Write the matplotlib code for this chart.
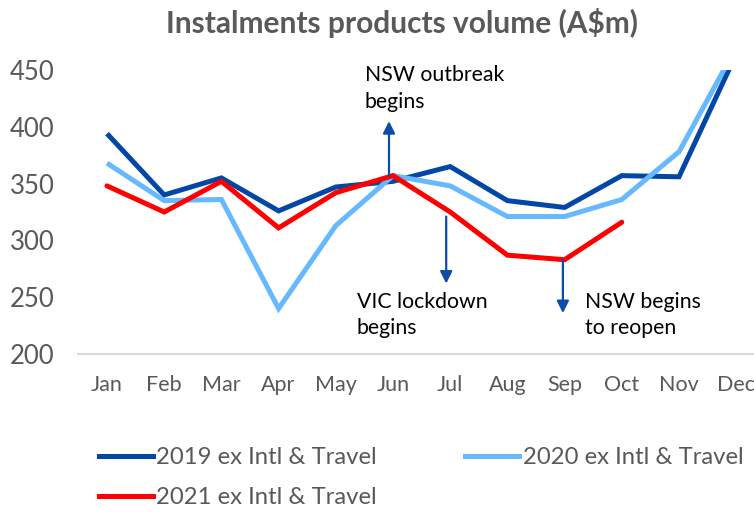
import matplotlib
matplotlib.use("Agg")
import matplotlib.pyplot as plt
from matplotlib.lines import Line2D

months = ["Jan", "Feb", "Mar", "Apr", "May", "Jun", "Jul", "Aug", "Sep", "Oct", "Nov", "Dec"]
v2019 = [394, 340, 355, 326, 347, 352, 365, 335, 329, 357, 356, 464]
v2020 = [368, 335, 336, 240, 313, 357, 348, 321, 321, 336, 378, 470]
v2021 = [348, 325, 352, 311, 342, 357, 325, 287, 283, 316]
labels = ["2019 ex Intl & Travel", "2020 ex Intl & Travel", "2021 ex Intl & Travel"]
yticks = [200, 250, 300, 350, 400, 450]

c19 = "#0347A6"
c20 = "#66B8FF"
c21 = "#FF0000"
arrow_c = "#0B4DA8"
gray = "#595959"
FONT = "Lato"

plt.rcParams['font.family'] = [FONT, 'DejaVu Sans']

W, H = 754, 514
fig = plt.figure(figsize=(W / 100, H / 100), dpi=100)
left_px, right_px, top_px, bot_px = 78.4, 754, 70, 354
ax = fig.add_axes([left_px / W, 1 - bot_px / H, (right_px - left_px) / W, (bot_px - top_px) / H])

x = list(range(len(months)))
lw = 3.6
ax.plot(x, v2019, color=c19, lw=lw, solid_capstyle='butt', solid_joinstyle='miter')
ax.plot(x, v2020, color=c20, lw=lw, solid_capstyle='butt', solid_joinstyle='miter')
ax.plot(x[:len(v2021)], v2021, color=c21, lw=lw, solid_capstyle='round', solid_joinstyle='miter')

ax.set_xlim(-0.5, -0.5 + (right_px - left_px) / 57.2)
ax.set_ylim(200, 450)
ax.set_xticks(x)
ax.set_xticklabels(months, fontsize=15.5, color=gray)
ax.set_yticks(yticks)
ax.set_yticklabels([str(t) for t in yticks], fontsize=18.5, color=gray)
ax.tick_params(axis='both', length=0)
ax.tick_params(axis='x', pad=15)
ax.tick_params(axis='y', pad=17)
for s in ["top", "right", "left"]:
    ax.spines[s].set_visible(False)
ax.spines["bottom"].set_color("#D9D9D9")
ax.spines["bottom"].set_linewidth(1.5)

# Title
fig.text(402 / W, 1 - 23 / H, "Instalments products volume (A$m)", ha='center', va='center',
         fontsize=21.5, fontweight='bold', color=gray)

# Annotations
ap = dict(arrowstyle='-|>', color=arrow_c, lw=1.6, mutation_scale=18, shrinkA=0, shrinkB=0)
ax.annotate('', xy=(4.93, 405), xytext=(4.93, 357), arrowprops=ap, annotation_clip=False)
ax.annotate('', xy=(5.93, 262), xytext=(5.93, 321), arrowprops=ap, annotation_clip=False)
ax.annotate('', xy=(7.97, 236), xytext=(7.97, 283), arrowprops=ap, annotation_clip=False)

tkw = dict(fontsize=15.3, color='black', ha='left', va='top', linespacing=1.4)
ax.text(4.51, 454, "NSW outbreak\nbegins", **tkw)
ax.text(4.37, 255, "VIC lockdown\nbegins", **tkw)
ax.text(8.36, 255, "NSW begins\nto reopen", **tkw)

# Legend
handles = [Line2D([], [], color=c19, lw=lw),
           Line2D([], [], color=c21, lw=lw),
           Line2D([], [], color=c20, lw=lw)]
leg = fig.legend(handles, [labels[0], labels[2], labels[1]], ncol=2,
                 loc='upper left', bbox_to_anchor=(99 / W, 1 - 447 / H),
                 frameon=False, fontsize=17.2, handlelength=2.25, handletextpad=0.15,
                 columnspacing=3.7, labelspacing=0.79, borderpad=0, borderaxespad=0)
for t in leg.get_texts():
    t.set_color(gray)

fig.savefig("out.png", dpi=100)
